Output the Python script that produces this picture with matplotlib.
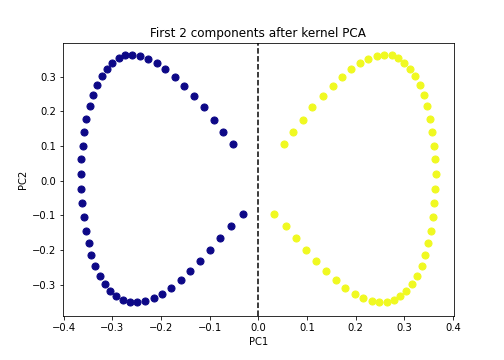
import matplotlib
matplotlib.use('Agg')
import matplotlib.pyplot as plt

# class 0 (dark blue)
pc1_a = [-0.053, -0.072, -0.091, -0.111, -0.132, -0.153, -0.172, -0.191, -0.209, -0.226,
         -0.243, -0.259, -0.274, -0.287, -0.300, -0.311, -0.322, -0.332, -0.340, -0.347,
         -0.354, -0.358, -0.361, -0.364, -0.365, -0.364, -0.362, -0.359, -0.355, -0.349,
         -0.343, -0.336, -0.326, -0.316, -0.304, -0.292, -0.278, -0.264, -0.249, -0.233,
         -0.215, -0.198, -0.179, -0.159, -0.140, -0.119, -0.099, -0.078, -0.056, -0.032]
pc2_a = [0.106, 0.141, 0.176, 0.211, 0.244, 0.274, 0.300, 0.321, 0.340, 0.352,
         0.360, 0.362, 0.361, 0.353, 0.340, 0.322, 0.303, 0.277, 0.248, 0.215,
         0.179, 0.141, 0.101, 0.061, 0.018, -0.023, -0.065, -0.106, -0.144, -0.181,
         -0.215, -0.246, -0.274, -0.298, -0.317, -0.333, -0.344, -0.350, -0.351, -0.348,
         -0.339, -0.326, -0.309, -0.287, -0.261, -0.232, -0.200, -0.165, -0.131, -0.097]

# class 1 (yellow)
pc1_b = [0.053, 0.072, 0.091, 0.111, 0.132, 0.153, 0.172, 0.191, 0.209, 0.226,
         0.243, 0.259, 0.274, 0.287, 0.300, 0.311, 0.322, 0.332, 0.340, 0.347,
         0.354, 0.358, 0.361, 0.364, 0.365, 0.364, 0.362, 0.359, 0.355, 0.349,
         0.343, 0.336, 0.326, 0.316, 0.304, 0.292, 0.278, 0.264, 0.249, 0.233,
         0.215, 0.198, 0.179, 0.159, 0.140, 0.119, 0.099, 0.078, 0.056, 0.032]
pc2_b = [0.106, 0.141, 0.176, 0.211, 0.244, 0.274, 0.300, 0.321, 0.340, 0.352,
         0.360, 0.362, 0.361, 0.353, 0.340, 0.322, 0.303, 0.277, 0.248, 0.215,
         0.179, 0.141, 0.101, 0.061, 0.018, -0.023, -0.065, -0.106, -0.144, -0.181,
         -0.215, -0.246, -0.274, -0.298, -0.317, -0.333, -0.344, -0.350, -0.351, -0.348,
         -0.339, -0.326, -0.309, -0.287, -0.261, -0.232, -0.200, -0.165, -0.131, -0.097]

fig = plt.figure(figsize=(7, 5), dpi=72)
ax = fig.add_axes([0.125, 0.1231, 0.775, 0.7569])
ax.scatter(pc1_a, pc2_a, color='#0d0887', s=50)
ax.scatter(pc1_b, pc2_b, color='#f0f921', s=50)
ax.axvline(0, color='k', linestyle='--')
ax.set_xlim(-0.4015, 0.4015)
ax.set_ylim(-0.3894, 0.3963)
ax.set_xticks([-0.4, -0.3, -0.2, -0.1, 0.0, 0.1, 0.2, 0.3, 0.4])
ax.set_title('First 2 components after kernel PCA')
ax.set_xlabel('PC1')
ax.set_ylabel('PC2')
plt.savefig('out.png', dpi=72)
